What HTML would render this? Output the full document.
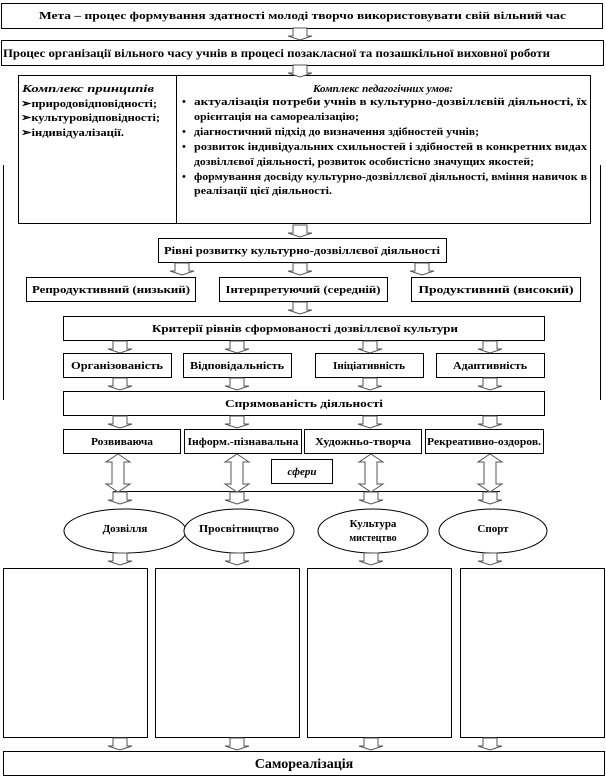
<!DOCTYPE html>
<html><head><meta charset="utf-8"><style>
html,body{margin:0;padding:0;background:#fff;}
svg{display:block;}
text{font-family:"Liberation Serif","DejaVu Serif",serif;fill:#000;font-size:11px;}
.b{font-weight:bold;}
</style></head><body>
<svg width="606" height="778" viewBox="0 0 606 778" xmlns="http://www.w3.org/2000/svg">
<defs>
<polygon id="da" points="-7,0 7,0 7,8 12,8 0,12 -12,8 -7,8" fill="#fff" stroke="#555" stroke-width="1"/>
<polygon id="dd" points="0,0 12,8 6,8 6,30 12,30 0,38 -12,30 -6,30 -6,8 -12,8" fill="#fff" stroke="#555" stroke-width="1"/>
</defs>
<g fill="#fff" stroke="#000" stroke-width="1">
<rect x="1.5" y="3.5" width="601" height="25"/>
<rect x="1.5" y="40.5" width="602" height="25"/>
<rect x="18.5" y="75.5" width="572" height="148"/>
<line x1="176.5" y1="75.5" x2="176.5" y2="223.5"/>
<line x1="3.5" y1="165" x2="3.5" y2="400"/>
<line x1="600.5" y1="165" x2="600.5" y2="400"/>
<rect x="158.5" y="238.5" width="288" height="24"/>
<rect x="26.5" y="277.5" width="169" height="24"/>
<rect x="219.5" y="277.5" width="168" height="24"/>
<rect x="411.5" y="277.5" width="169" height="24"/>
<rect x="63.5" y="316.5" width="481" height="24"/>
<rect x="63.5" y="353.5" width="108" height="24"/>
<rect x="183.5" y="353.5" width="108" height="24"/>
<rect x="315.5" y="353.5" width="108" height="24"/>
<rect x="436.5" y="353.5" width="108" height="24"/>
<rect x="63.5" y="391.5" width="481" height="24"/>
<rect x="63.5" y="429.5" width="117" height="24"/>
<rect x="184.5" y="429.5" width="117" height="24"/>
<rect x="304.5" y="429.5" width="117" height="24"/>
<rect x="425.5" y="429.5" width="118" height="24"/>
<rect x="271.5" y="459.5" width="61" height="24"/>
<line x1="113" y1="491.5" x2="500" y2="491.5"/>
<ellipse cx="125" cy="531" rx="61" ry="22"/>
<ellipse cx="239" cy="531" rx="55" ry="22"/>
<ellipse cx="373" cy="531" rx="55" ry="22"/>
<ellipse cx="493" cy="531" rx="54" ry="22"/>
<rect x="3.5" y="568.5" width="144" height="169"/>
<rect x="155.5" y="568.5" width="144" height="169"/>
<rect x="307.5" y="568.5" width="144" height="169"/>
<rect x="460.5" y="568.5" width="144" height="169"/>
<rect x="3.5" y="751.5" width="601" height="24"/>
</g>
<use href="#da" x="300" y="28"/>
<use href="#da" x="300" y="65"/>
<use href="#da" x="300" y="225"/>
<use href="#da" x="182" y="263"/><use href="#da" x="300" y="263"/><use href="#da" x="422" y="263"/>
<use href="#da" x="300" y="302"/>
<use href="#da" x="120" y="341"/><use href="#da" x="237" y="341"/><use href="#da" x="370" y="341"/><use href="#da" x="490" y="341"/>
<use href="#da" x="120" y="378"/><use href="#da" x="237" y="378"/><use href="#da" x="370" y="378"/><use href="#da" x="490" y="378"/>
<use href="#da" x="120" y="416"/><use href="#da" x="237" y="416"/><use href="#da" x="370" y="416"/><use href="#da" x="490" y="416"/>
<use href="#dd" x="118" y="454"/><use href="#dd" x="237" y="454"/><use href="#dd" x="371" y="454"/><use href="#dd" x="490" y="454"/>
<use href="#da" x="120" y="492"/><use href="#da" x="237" y="492"/><use href="#da" x="371" y="492"/><use href="#da" x="490" y="492"/>
<use href="#da" x="120" y="553"/><use href="#da" x="237" y="553"/><use href="#da" x="371" y="553"/><use href="#da" x="490" y="553"/>
<use href="#da" x="120" y="738"/><use href="#da" x="237" y="738"/><use href="#da" x="371" y="738"/><use href="#da" x="490" y="738"/>

<text class="b" x="39" y="19" style="font-size:11px" textLength="527" lengthAdjust="spacingAndGlyphs">Мета – процес формування здатності молоді творчо використовувати свій вільний час</text>
<text class="b" x="3" y="57" style="font-size:12px" textLength="547" lengthAdjust="spacingAndGlyphs">Процес організації вільного часу учнів в процесі позакласної та позашкільної виховної роботи</text>

<text x="22" y="92" style="font-size:11px;font-style:italic;font-weight:bold" textLength="132" lengthAdjust="spacingAndGlyphs">Комплекс принципів</text>
<text class="b" x="21" y="107" textLength="136" lengthAdjust="spacingAndGlyphs">➢природовідповідності;</text>
<text class="b" x="21" y="121" textLength="139" lengthAdjust="spacingAndGlyphs">➢культуровідповідності;</text>
<text class="b" x="21" y="136" textLength="103" lengthAdjust="spacingAndGlyphs">➢індивідуалізації.</text>

<text x="383" y="92" text-anchor="middle" style="font-size:11px;font-style:italic;font-weight:bold" textLength="140" lengthAdjust="spacingAndGlyphs">Комплекс педагогічних умов:</text>
<text class="b" x="182" y="105">•</text><text class="b" x="182" y="135">•</text><text class="b" x="182" y="150">•</text><text class="b" x="182" y="180">•</text>
<text class="b" x="194" y="105" textLength="393" lengthAdjust="spacingAndGlyphs">актуалізація потреби учнів в культурно-дозвіллєвій діяльності, їх</text>
<text class="b" x="194" y="120" textLength="165" lengthAdjust="spacingAndGlyphs">орієнтація на самореалізацію;</text>
<text class="b" x="194" y="135" textLength="285" lengthAdjust="spacingAndGlyphs">діагностичний підхід до визначення здібностей учнів;</text>
<text class="b" x="194" y="150" textLength="393" lengthAdjust="spacingAndGlyphs">розвиток індивідуальних схильностей і здібностей в конкретних видах</text>
<text class="b" x="194" y="165" textLength="340" lengthAdjust="spacingAndGlyphs">дозвіллєвої діяльності, розвиток особистісно значущих якостей;</text>
<text class="b" x="194" y="180" textLength="393" lengthAdjust="spacingAndGlyphs">формування досвіду культурно-дозвіллєвої діяльності, вміння навичок в</text>
<text class="b" x="194" y="194" textLength="138" lengthAdjust="spacingAndGlyphs">реалізації цієї діяльності.</text>

<text class="b" x="302" y="254" text-anchor="middle" textLength="276" lengthAdjust="spacingAndGlyphs">Рівні розвитку культурно-дозвіллєвої діяльності</text>
<text class="b" x="111" y="293" text-anchor="middle" textLength="158" lengthAdjust="spacingAndGlyphs">Репродуктивний (низький)</text>
<text class="b" x="303" y="293" text-anchor="middle" textLength="155" lengthAdjust="spacingAndGlyphs">Інтерпретуючий (середній)</text>
<text class="b" x="496" y="293" text-anchor="middle" textLength="155" lengthAdjust="spacingAndGlyphs">Продуктивний (високий)</text>
<text class="b" x="305" y="332" text-anchor="middle" textLength="306" lengthAdjust="spacingAndGlyphs">Критерії рівнів сформованості дозвіллєвої культури</text>
<text class="b" x="117" y="369" text-anchor="middle" textLength="92" lengthAdjust="spacingAndGlyphs">Організованість</text>
<text class="b" x="237" y="369" text-anchor="middle" textLength="94" lengthAdjust="spacingAndGlyphs">Відповідальність</text>
<text class="b" x="369" y="369" text-anchor="middle" textLength="72" lengthAdjust="spacingAndGlyphs">Ініціативність</text>
<text class="b" x="490" y="369" text-anchor="middle" textLength="74" lengthAdjust="spacingAndGlyphs">Адаптивність</text>
<text class="b" x="304" y="407" text-anchor="middle" textLength="158" lengthAdjust="spacingAndGlyphs">Спрямованість діяльності</text>
<text class="b" x="122" y="445" text-anchor="middle" textLength="62" lengthAdjust="spacingAndGlyphs">Розвиваюча</text>
<text class="b" x="243" y="445" text-anchor="middle" textLength="111" lengthAdjust="spacingAndGlyphs">Інформ.-пізнавальна</text>
<text class="b" x="363" y="445" text-anchor="middle" textLength="96" lengthAdjust="spacingAndGlyphs">Художньо-творча</text>
<text class="b" x="484" y="445" text-anchor="middle" textLength="114" lengthAdjust="spacingAndGlyphs">Рекреативно-оздоров.</text>
<text x="302" y="475" text-anchor="middle" style="font-size:11px;font-style:italic;font-weight:bold">сфери</text>
<text class="b" x="125" y="532" text-anchor="middle" style="font-size:11px">Дозвілля</text>
<text class="b" x="239" y="532" text-anchor="middle" style="font-size:10px" textLength="80" lengthAdjust="spacingAndGlyphs">Просвітництво</text>
<text class="b" x="373" y="527" text-anchor="middle" style="font-size:11px">Культура</text>
<text class="b" x="373" y="541" text-anchor="middle" style="font-size:10px">мистецтво</text>
<text class="b" x="493" y="532" text-anchor="middle" style="font-size:11px">Спорт</text>
<text class="b" x="304" y="768" text-anchor="middle" style="font-size:14px">Самореалізація</text>
</svg>
</body></html>
